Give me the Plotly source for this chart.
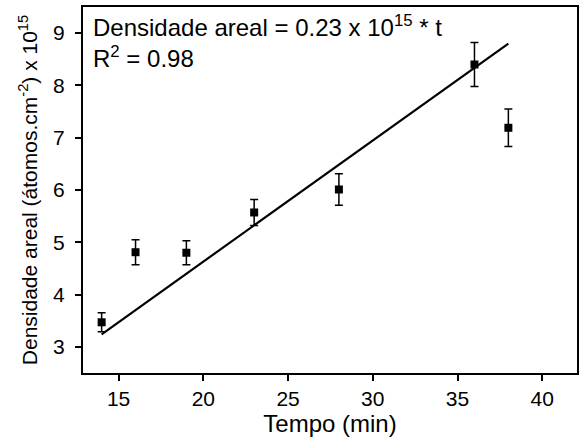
import plotly.graph_objects as go

tempo = [14, 16, 19, 23, 28, 36, 38]
densidade = [3.47, 4.81, 4.80, 5.57, 6.01, 8.40, 7.19]
erro = [0.18, 0.24, 0.23, 0.25, 0.30, 0.42, 0.36]

fit_x = [14, 38]
fit_y = [3.24, 8.80]

x_ticks = [15, 20, 25, 30, 35, 40]
y_ticks = [3, 4, 5, 6, 7, 8, 9]

FONT = "Liberation Sans, Arial, sans-serif"

fig = go.Figure()
fig.add_trace(go.Scatter(
    x=fit_x, y=fit_y, mode="lines",
    line=dict(color="black", width=2.2), showlegend=False))
fig.add_trace(go.Scatter(
    x=tempo, y=densidade, mode="markers",
    marker=dict(symbol="square", size=8, color="black"),
    error_y=dict(type="data", array=erro, visible=True, color="black",
                 thickness=1.5, width=4),
    showlegend=False))

fig.add_annotation(x=0.017, y=0.995, xref="paper", yref="paper",
                   xanchor="left", yanchor="top", showarrow=False, align="left",
                   text="Densidade areal = 0.23 x 10<sup>15</sup> * t<br>R<sup>2</sup> = 0.98",
                   font=dict(family=FONT, size=24, color="black"))

axis_common = dict(showline=True, linecolor="black", linewidth=2, mirror=True,
                   ticks="outside", ticklen=6, tickwidth=1.5, tickcolor="black",
                   showgrid=False, zeroline=False,
                   tickfont=dict(family=FONT, size=21, color="black"))

fig.update_xaxes(range=[12.9, 42.05], tickvals=x_ticks,
                 title=dict(text="Tempo (min)", font=dict(family=FONT, size=24, color="black"), standoff=3),
                 **axis_common)
fig.update_yaxes(range=[2.5, 9.5], tickvals=y_ticks, ticklabelstandoff=6,
                 title=dict(text="Densidade areal (átomos.cm<sup>-2</sup>) x 10<sup>15</sup>",
                            font=dict(family=FONT, size=21, color="black"), standoff=10),
                 **axis_common)

fig.update_layout(width=581, height=441, margin=dict(l=83, r=2, t=7, b=68),
                  plot_bgcolor="white", paper_bgcolor="white")

fig.write_html("out.html")
